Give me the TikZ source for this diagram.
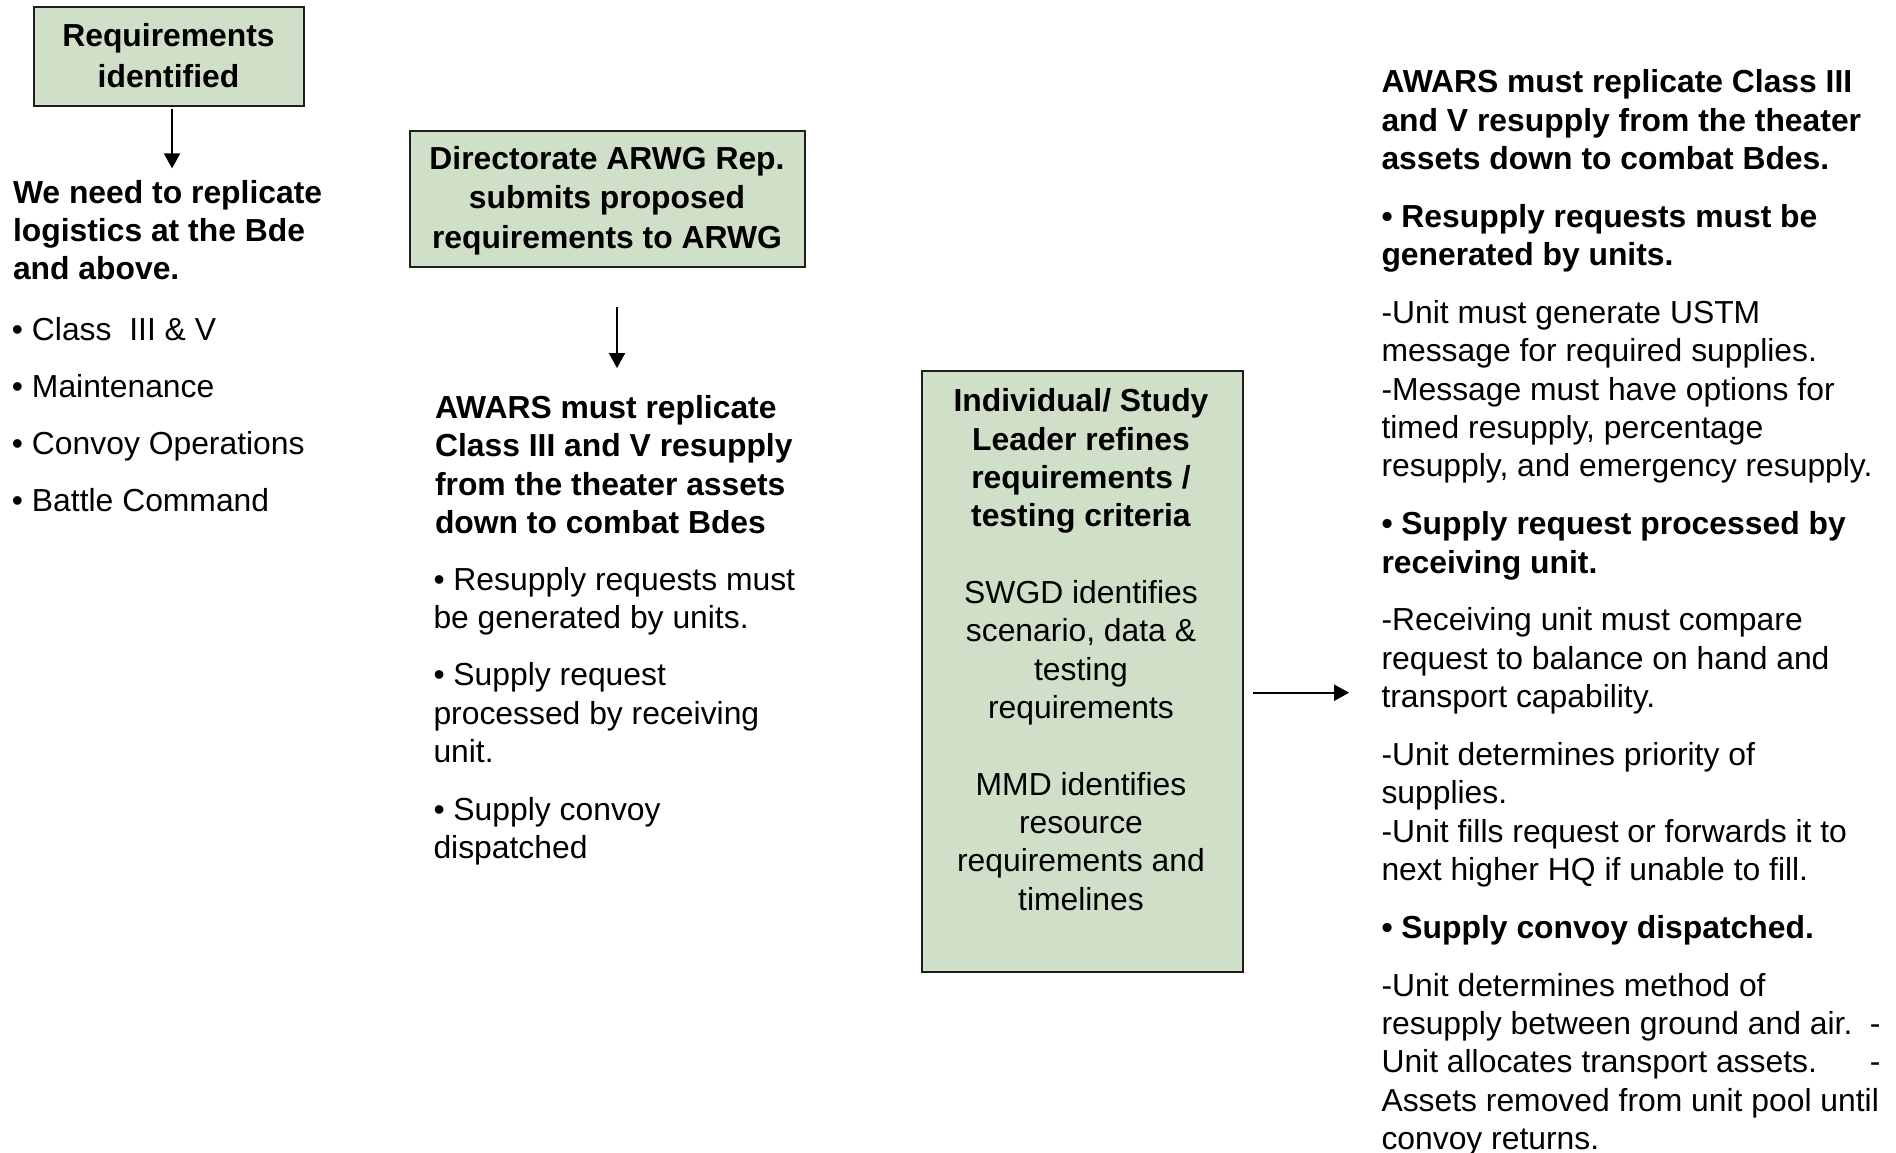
\documentclass[tikz,border=0pt]{standalone}
\usepackage{fontspec}
\setmainfont{Liberation Sans}
\usetikzlibrary{arrows.meta,calc}
\definecolor{boxgreen}{RGB}{208,223,200}
\definecolor{edge}{RGB}{30,30,30}
\begin{document}
\begin{tikzpicture}[x=1pt,y=-1pt,
  gbox/.style={draw=edge,line width=2pt,fill=boxgreen,inner sep=0pt,outer sep=0pt},
  body/.style={inner sep=0pt,outer sep=0pt,text=black},
  plain/.style={body,align=left,anchor=north west,font=\fontsize{31.85}{38.35}\selectfont},
  heavy/.style={body,align=left,anchor=north west,font=\fontsize{31.85}{38.35}\selectfont\bfseries},
  boxtext/.style={body,align=center,anchor=north,font=\fontsize{31.85}{#1}\selectfont\bfseries},
  arr/.style={line width=2pt,draw=black,-{Triangle[width=16pt,length=15pt]}},
]
\useasboundingbox (0,0) rectangle (1896,1152);

% --- boxes ---
\node[gbox,minimum width=269.7pt,minimum height=99pt] (b1) at (168.85,56.5) {};
\node[gbox,minimum width=395.6pt,minimum height=135.7pt] (b2) at (607.5,198.85) {};
\node[gbox,minimum width=321pt,minimum height=601pt] (b3) at (1082.2,671.5) {};

% --- box labels ---
\node[boxtext=40.5] (b1t) at (168.5,18.35) {\strut Requirements\\identified};
\node[boxtext=39.5] (b2t) at (607,141.65) {\strut Directorate ARWG Rep.\\submits proposed\\requirements to ARWG};
\node[body,align=center,anchor=north,font=\fontsize{31.85}{38.35}\selectfont] (b3t) at (1081,384.85)
  {\strut\textbf{Individual/ Study}\\\textbf{Leader refines}\\\textbf{requirements /}\\\textbf{testing criteria}\\[38.35pt]
   SWGD identifies\\scenario, data \&\\testing\\requirements\\[38.35pt]
   MMD identifies\\resource\\requirements and\\timelines};

% --- left column ---
\node[heavy] (needhd) at (13,176.15) {\strut We need to replicate\\logistics at the Bde\\and above.};
\node[plain] (needlist) at (12,313.15) {\strut • Class\ \ III \& V\\[18.9pt]• Maintenance\\[18.9pt]• Convoy Operations\\[18.9pt]• Battle Command};

% --- middle column ---
\node[heavy] (awhd) at (435,391.45) {\strut AWARS must replicate\\Class III and V resupply\\from the theater assets\\down to combat Bdes};
\node[plain] (awlist) at (433.5,563.15) {\strut • Resupply requests must\\be generated by units.\\[19.2pt]• Supply request\\processed by receiving\\unit.\\[19.2pt]• Supply convoy\\dispatched};

% --- right column ---
\node[plain] (detail) at (1381.5,65.85) {\strut\textbf{AWARS must replicate Class III}\\
\textbf{and V resupply from the theater}\\
\textbf{assets down to combat Bdes.}\\[19.5pt]
\textbf{• Resupply requests must be}\\
\textbf{generated by units.}\\[19.5pt]
-Unit must generate USTM\\
message for required supplies.\\
-Message must have options for\\
timed resupply, percentage\\
resupply, and emergency resupply.\\[19.5pt]
\textbf{• Supply request processed by}\\
\textbf{receiving unit.}\\[19.5pt]
-Receiving unit must compare\\
request to balance on hand and\\
transport capability.\\[19.5pt]
-Unit determines priority of\\
supplies.\\
-Unit fills request or forwards it to\\
next higher HQ if unable to fill.\\[19.5pt]
\textbf{• Supply convoy dispatched.}\\[19.5pt]
-Unit determines method of\\
\hbox to 499pt{resupply between ground and air.\hfil-}\\
\hbox to 499pt{Unit allocates transport assets.\hfil-}\\
Assets removed from unit pool until\\
convoy returns.};

% --- connectors ---
\draw[arr] ($(b1.south)+(3.2,3.3)$) -- ($(b1.south |- needhd.north)+(3.2,-7.8)$);
\draw[arr] ($(b2.south)+(9.5,40.3)$) -- ($(b2.south |- awhd.north)+(9.5,-23.4)$);
\draw[arr] ($(b3.east)+(10.3,21.2)$) -- ($(b3.east -| detail.west)+(-32.4,21.2)$);
\end{tikzpicture}
\end{document}
